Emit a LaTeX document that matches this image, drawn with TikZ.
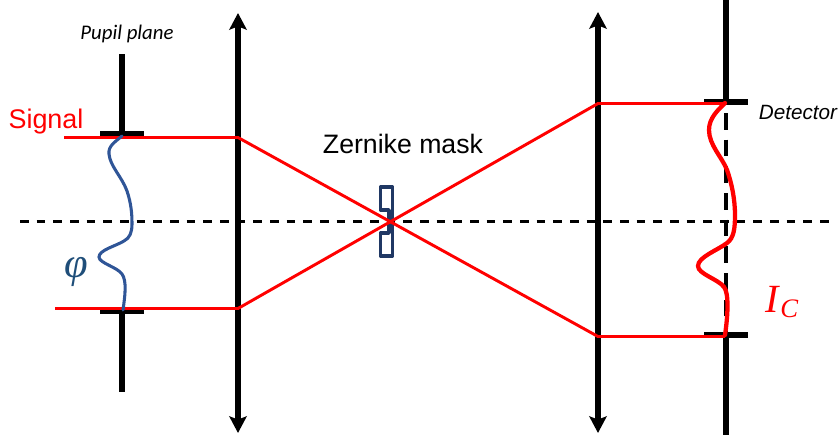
\documentclass[tikz,border=0pt]{standalone}
\usepackage{fontspec}
\setmainfont{Liberation Sans}
\newfontfamily\carl{Carlito}
\newfontfamily\lserif{Liberation Serif}
\usetikzlibrary{arrows.meta}
\definecolor{navyw}{HTML}{2F5597}
\definecolor{maskc}{HTML}{203864}
\definecolor{phic}{HTML}{1F4E79}
\definecolor{sigred}{HTML}{FF0000}
\tikzset{
 axisline/.style={black,line width=1.7pt,dash pattern=on 6.4pt off 6.1pt},
 detdash/.style={black,line width=3.1pt,dash pattern=on 12.5pt off 7.5pt},
 stopbar/.style={black,line width=4pt},
 lens/.style={black,line width=4pt,{Stealth[length=12.5pt,width=13pt,inset=2.5pt]}-{Stealth[length=12.5pt,width=13pt,inset=2.5pt]}},
 ray/.style={sigred,line width=2.2pt},
 wave/.style={navyw,line width=2.3pt,line cap=round},
 intens/.style={sigred,line width=3.2pt,line cap=round},
 maskline/.style={maskc,line width=2.7pt,line join=round},
 lbl/.style={inner sep=0pt,outer sep=0pt},
}
\begin{document}
\begin{tikzpicture}[x=0.75pt,y=-0.75pt]
\useasboundingbox (0,0) rectangle (840,439);
% coordinates
\coordinate (axL) at (20,221.5);
\coordinate (axR) at (836,221.5);
\coordinate (stT) at (122,54);
\coordinate (stB) at (122,392);
\coordinate (su) at (122,134);
\coordinate (sd) at (122,311);
\coordinate (suL) at (100,134);
\coordinate (suR) at (144,134);
\coordinate (sdL) at (100,311);
\coordinate (sdR) at (144,311);
\coordinate (l1T) at (238,13);
\coordinate (l1B) at (238,433);
\coordinate (l2T) at (598,12);
\coordinate (l2B) at (598,433);
\coordinate (l1u) at (238,137.5);
\coordinate (l1d) at (238,308.5);
\coordinate (l2u) at (598,103.5);
\coordinate (l2d) at (598,336.5);
\coordinate (sigU) at (64,137.5);
\coordinate (sigD) at (55,308.5);
\coordinate (detT) at (726,0);
\coordinate (detB) at (726,435);
\coordinate (du) at (726,102);
\coordinate (dd) at (726,334);
\coordinate (duL) at (704,102);
\coordinate (duR) at (748,102);
\coordinate (ddL) at (704,335);
\coordinate (ddR) at (748,335);
\coordinate (rayU) at (725,103.5);
\coordinate (rayD) at (725,336.5);
\coordinate (dashS) at (726,113);
% axis
\draw[axisline] (axL) -- (axR);
% pupil stop
\draw[stopbar] (stT) -- (su);
\draw[stopbar] (sd) -- (stB);
\draw[stopbar] (suL) -- (suR);
\draw[stopbar] (sdL) -- (sdR);
% lenses
\draw[lens] (l1T) -- (l1B);
\draw[lens] (l2T) -- (l2B);
% detector
\draw[stopbar] (detT) -- (du);
\draw[stopbar] (dd) -- (detB);
\draw[stopbar] (duL) -- (duR);
\draw[stopbar] (ddL) -- (ddR);
\draw[detdash] (dashS) -- (dd);
% mask
\draw[maskline]
 (380.5,187) -- (392.5,187) -- (392.5,256) -- (380.5,256) -- (380.5,233) -- (389,233) -- (389,210) -- (380.5,210) -- cycle;
% rays
\draw[ray] (sigU) -- (l1u) -- (l2d) -- (rayD);
\draw[ray] (sigD) -- (l1d) -- (l2u) -- (rayU);
% phase wave
\draw[wave] (122,136) .. controls (115,142) and (108,146) .. (109,154)
 .. controls (110,166) and (122,177) .. (127,191)
 .. controls (131,203) and (132,213) .. (132,224)
 .. controls (132,232) and (130,238) .. (124,241)
 .. controls (116,246) and (99,250) .. (99,257)
 .. controls (99,263) and (117,267) .. (122,274)
 .. controls (127,281) and (125,296) .. (123,310);
% intensity
\draw[intens] (725,103) .. controls (718,110) and (709,118) .. (709,130)
 .. controls (709,145) and (722,157) .. (727,170)
 .. controls (732,184) and (735,200) .. (735,215)
 .. controls (735,228) and (734,238) .. (727,243)
 .. controls (718,250) and (698,257) .. (698,266)
 .. controls (698,274) and (718,279) .. (724,287)
 .. controls (729,293) and (728,315) .. (725,335);
% labels
\node[lbl,font=\carl\itshape\fontsize{15.6pt}{17pt}\selectfont] (pupil) at (127,34) {Pupil plane};
\node[lbl,text=sigred,font=\fontsize{20.2pt}{22pt}\selectfont] (signal) at (46,122) {Signal};
\node[lbl,font=\fontsize{20pt}{22pt}\selectfont] (zern) at (403,144) {Zernike mask};
\node[lbl,font=\itshape\fontsize{15.5pt}{17pt}\selectfont] (detl) at (798,112) {Detector};
\node[lbl,text=phic,font=\lserif\itshape\fontsize{32pt}{34pt}\selectfont] (phi) at (76,272) {φ};
\node[lbl,text=sigred,font=\lserif\itshape\fontsize{30pt}{32pt}\selectfont] (ic) at (782,302) {I\kern1pt\raisebox{-4pt}{\fontsize{20pt}{22pt}\selectfont C}};
\end{tikzpicture}
\end{document}
